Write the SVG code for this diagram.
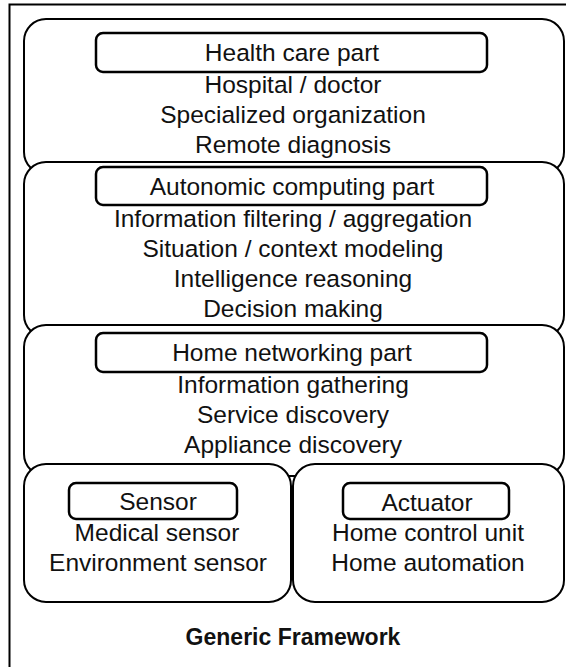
<svg xmlns="http://www.w3.org/2000/svg" width="566" height="667" viewBox="0 0 566 667">
<style>
.layer{fill:#fff;stroke:#000;stroke-width:2}
.title{fill:#fff;stroke:#000;stroke-width:2.5}
text{font-family:"Liberation Sans",Arial,sans-serif;font-size:24.5px;fill:#111;text-anchor:middle}
.caption{font-weight:bold;font-size:23px}
</style>
<rect width="566" height="667" fill="#fff"/>
<path id="frame" d="M9.5,667 V4.5 H566" fill="none" stroke="#000" stroke-width="2"/>
<g id="health-care">
<rect class="layer" x="24" y="19" width="540" height="155" rx="22"/>
<rect class="title" x="96" y="33" width="391" height="39" rx="7"/>
<text x="292" y="61">Health care part</text>
<text x="293" y="93">Hospital / doctor</text>
<text x="293" y="123">Specialized organization</text>
<text x="293" y="153">Remote diagnosis</text>
</g>
<g id="autonomic-computing">
<rect class="layer" x="24" y="162" width="540" height="175" rx="22"/>
<rect class="title" x="96" y="167" width="391" height="38" rx="7"/>
<text x="292" y="195">Autonomic computing part</text>
<text x="293" y="227">Information filtering / aggregation</text>
<text x="293" y="257">Situation / context modeling</text>
<text x="293" y="287">Intelligence reasoning</text>
<text x="293" y="317">Decision making</text>
</g>
<g id="home-networking">
<rect class="layer" x="24" y="325" width="540" height="151" rx="22"/>
<rect class="title" x="96" y="333" width="391" height="39" rx="7"/>
<text x="292" y="361">Home networking part</text>
<text x="293" y="393">Information gathering</text>
<text x="293" y="423">Service discovery</text>
<text x="293" y="453">Appliance discovery</text>
</g>
<g id="sensor">
<rect class="layer" x="24" y="464" width="267" height="138" rx="22"/>
<rect class="title" x="69" y="483" width="168" height="36" rx="7"/>
<text x="158" y="510">Sensor</text>
<text x="157" y="541">Medical sensor</text>
<text x="158" y="571">Environment sensor</text>
</g>
<g id="actuator">
<rect class="layer" x="293" y="464" width="271" height="138" rx="22"/>
<rect class="title" x="343" y="483" width="166" height="36" rx="7"/>
<text x="427" y="511">Actuator</text>
<text x="428" y="541">Home control unit</text>
<text x="428" y="571">Home automation</text>
</g>
<text class="caption" x="293" y="645">Generic Framework</text>
</svg>
